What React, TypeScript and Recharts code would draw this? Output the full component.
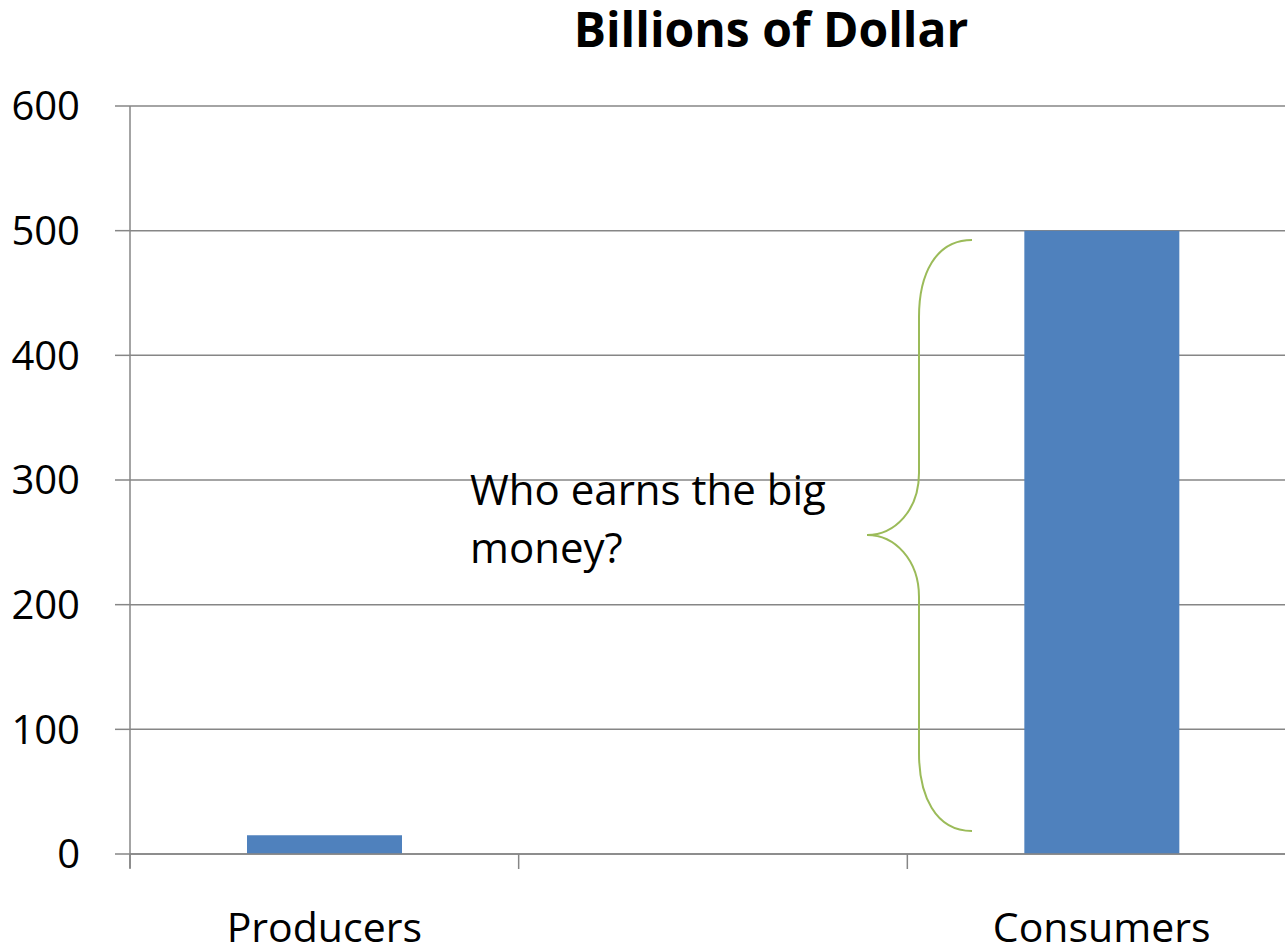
import React from 'react';
import { BarChart, Bar, XAxis, YAxis, CartesianGrid } from 'recharts';

const categories = ['Producers', '', 'Consumers'];
const billions = [15, null, 500];
const yTicks = [0, 100, 200, 300, 400, 500, 600];

const data = categories.map((name, i) => ({ name, value: billions[i] }));

const CHART_W = 1296;
const CHART_H = 950;
const Y_AXIS_W = 130;
const X_AXIS_H = 96;
const GRID = '#868686';
const FONT = '"Open Sans", sans-serif';

const BAND = (CHART_W - Y_AXIS_W) / categories.length;

const CategoryTick = (props: any) => {
  const { x, y, payload, index } = props;
  const last = index === categories.length - 1;
  return (
    <g>
      <line x1={x - BAND / 2} y1={y} x2={x - BAND / 2} y2={y + 15} stroke={GRID} strokeWidth={1.5} />
      {last && <line x1={x + BAND / 2} y1={y} x2={x + BAND / 2} y2={y + 15} stroke={GRID} strokeWidth={1.5} />}
      <text x={x} y={y + 88} textAnchor="middle" fontSize={41} fontFamily={FONT} fill="#000">
        {payload.value}
      </text>
    </g>
  );
};

export default function App() {
  return (
    <div style={{ position: 'absolute', left: 0, top: 0, width: 1285, height: 950, overflow: 'hidden', background: '#fff' }}>
      <BarChart
        width={CHART_W}
        height={CHART_H}
        data={data}
        margin={{ top: 106, right: 0, left: 0, bottom: 0 }}
      >
        <CartesianGrid vertical={false} stroke={GRID} strokeWidth={1.5} />
        <XAxis
          dataKey="name"
          height={X_AXIS_H}
          interval={0}
          tickSize={0}
          tickMargin={0}
          tickLine={false}
          axisLine={{ stroke: GRID, strokeWidth: 1.5 }}
          tick={<CategoryTick />}
        />
        <YAxis
          width={Y_AXIS_W}
          domain={[0, 600]}
          ticks={yTicks}
          interval={0}
          tickSize={15}
          tickMargin={35}
          axisLine={{ stroke: GRID, strokeWidth: 1.5 }}
          tickLine={{ stroke: GRID, strokeWidth: 1.5 }}
          tick={{ fontSize: 40, fontFamily: FONT, fill: '#000' }}
        />
        <Bar dataKey="value" fill="#4F81BD" barSize={155} isAnimationActive={false} />
      </BarChart>
      <svg
        width={1285}
        height={950}
        style={{ position: 'absolute', left: 0, top: 0, pointerEvents: 'none' }}
      >
        <text x={771} y={47} textAnchor="middle" fontSize={48} fontWeight="bold" fontFamily={FONT} fill="#000">
          Billions of Dollar
        </text>
        <line x1={130} y1={854} x2={130} y2={868} stroke={GRID} strokeWidth={1.5} />
        <text fontSize={42} fontFamily={FONT} fill="#000">
          <tspan x={470} y={505}>Who earns the big</tspan>
          <tspan x={470} y={563}>money?</tspan>
        </text>
        <path
          d="M972,240 C935,240 919,275 919,317 L919,473 C919,510 895,535 867,535 C895,535 919,560 919,597 L919,753 C919,795 935,831 972,831"
          fill="none"
          stroke="#9BBB59"
          strokeWidth={2}
        />
      </svg>
    </div>
  );
}
